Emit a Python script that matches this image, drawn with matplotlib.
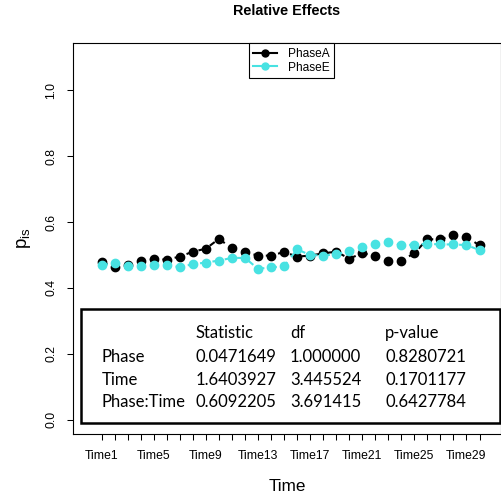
import numpy as np
import matplotlib
matplotlib.use("Agg")
import matplotlib.pyplot as plt
from matplotlib.patches import Rectangle

# relative effects per time point
times = np.arange(1, 31)
phase_a = [0.478, 0.463, 0.468, 0.481, 0.487, 0.486, 0.495, 0.510, 0.519, 0.549,
           0.520, 0.509, 0.498, 0.498, 0.509, 0.495, 0.498, 0.505, 0.510, 0.489,
           0.505, 0.498, 0.481, 0.483, 0.505, 0.548, 0.547, 0.561, 0.555, 0.529]
phase_e = [0.468, 0.477, 0.465, 0.465, 0.471, 0.469, 0.463, 0.472, 0.477, 0.483,
           0.491, 0.491, 0.458, 0.462, 0.466, 0.517, 0.500, 0.498, 0.502, 0.511,
           0.524, 0.534, 0.539, 0.530, 0.531, 0.534, 0.532, 0.532, 0.530, 0.515]
tick_labels = ["Time%d" % t for t in times]
shown_ticks = [1, 5, 9, 13, 17, 21, 25, 29]

# ANOVA-type statistic table
tab_header = ["", "Statistic", "df", "p-value"]
tab_rows = ["Phase", "Time", "Phase:Time"]
tab_stat = ["0.0471649", "1.6403927", "0.6092205"]
tab_df = ["1.000000", "3.445524", "3.691415"]
tab_p = ["0.8280721", "0.1701177", "0.6427784"]

col_a = "black"
col_e = "#48E2E2"

plt.rcParams['font.family'] = ['Liberation Sans', 'DejaVu Sans']

fig = plt.figure(figsize=(5.02, 4.97), dpi=100)
ax = fig.add_axes([73 / 502, 1 - 434 / 497, 428 / 502, 391 / 497])

ax.plot(times, phase_a, color=col_a, ls=(0, (3, 3)), lw=1.5, marker='o',
        ms=6, label="PhaseA", zorder=3)
ax.plot(times, phase_e, color=col_e, ls=(0, (3, 3)), lw=1.5, marker='o',
        ms=6, label="PhaseE", zorder=4)

ax.set_xlim(-1.2, 31.65)
ax.set_ylim(-0.044, 1.144)
ax.set_xticks(times)
ax.set_xticklabels([l if t in shown_ticks else "" for t, l in zip(times, tick_labels)])
ax.set_yticks([0.0, 0.2, 0.4, 0.6, 0.8, 1.0])
ax.set_yticklabels(["0.0", "0.2", "0.4", "0.6", "0.8", "1.0"], rotation=90, va='center')
ax.tick_params(axis='both', direction='out', length=4.5, width=0.75, labelsize=8.8, pad=7)
for s in ax.spines.values():
    s.set_linewidth(0.8)

ax.set_title("Relative Effects", fontsize=10.4, fontweight='bold', pad=20)
ax.set_xlabel("Time", fontsize=12.3, labelpad=12)
ax.set_ylabel(r"$\mathregular{p_{is}}$", fontsize=13.5, labelpad=9)

leg_handles = [
    plt.Line2D([], [], color=col_a, lw=1.5, marker='o', ms=5),
    plt.Line2D([], [], color=col_e, lw=1.5, marker='o', ms=5),
]
leg = ax.legend(leg_handles, ["PhaseA", "PhaseE"], loc='upper center',
                bbox_to_anchor=((291.5 - 73) / 428, 1.0), fontsize=8.6,
                frameon=True, fancybox=False, edgecolor='black', framealpha=1,
                borderaxespad=0, borderpad=0.4, handlelength=2.0,
                handletextpad=0.9, labelspacing=0.15)
leg.get_frame().set_linewidth(0.8)

# statistics box in the lower part of the panel
ax.add_patch(Rectangle((8 / 428, 11 / 391), 419 / 428, 114 / 391, transform=ax.transAxes,
                       fill=False, lw=1.8, edgecolor='black', zorder=5))
col_x = [0.0671, 0.2867, 0.507, 0.729]
row_y = [0.2583, 0.1969, 0.1389, 0.0818]
tfont = dict(fontsize=12, family=['Lato', 'DejaVu Sans'], va='center', ha='left',
             transform=ax.transAxes, zorder=6)
for j, h in enumerate(tab_header):
    ax.text(col_x[j], row_y[0], h, **tfont)
for i in range(len(tab_rows)):
    for j, v in enumerate([tab_rows[i], tab_stat[i], tab_df[i], tab_p[i]]):
        ax.text(col_x[j], row_y[i + 1], v, **tfont)

fig.savefig("out.png", dpi=100)
